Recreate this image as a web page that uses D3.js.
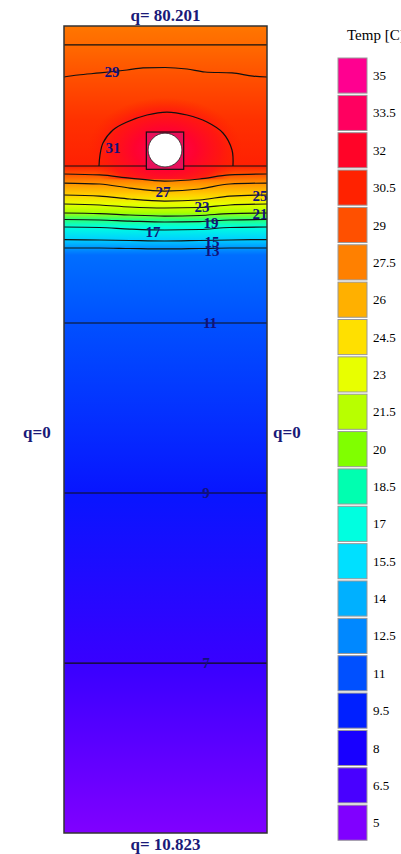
<!DOCTYPE html>
<html>
<head>
<meta charset="utf-8">
<script src="https://d3js.org/d3.v7.min.js"></script>
<style>
body { margin: 0; background: #fff; }
svg text { font-family: "Liberation Serif", "DejaVu Serif", serif; }
</style>
</head>
<body>
<svg width="401" height="854"></svg>
<script>
// legend classes (top to bottom)
var legendValues = [35, 33.5, 32, 30.5, 29, 27.5, 26, 24.5, 23, 21.5, 20, 18.5, 17, 15.5, 14, 12.5, 11, 9.5, 8, 6.5, 5];
var legendLabels = ["35", "33.5", "32", "30.5", "29", "27.5", "26", "24.5", "23", "21.5", "20", "18.5", "17", "15.5", "14", "12.5", "11", "9.5", "8", "6.5", "5"];
var legendColors = ["#ff0090", "#ff0060", "#ff0428", "#ff2200", "#ff5000", "#ff8000", "#ffb000", "#ffe000", "#e8ff00", "#b8ff00",
                    "#80ff00", "#00ffb0", "#00ffe0", "#00e0ff", "#00b0ff", "#0088ff", "#0050ff", "#0020ff", "#1800ff", "#4800ff", "#8000ff"];

// temperature along the side wall: depth (mm) and temp (C)
var profileDepth = [0, 23.5, 63.2, 116.5, 173.5, 183.4, 194.6, 209.4, 220.6, 231.7, 239.8, 249.1, 264.6, 275.1, 283.8, 368, 578.7, 789.4, 1000];
var profileTemp  = [27.8, 28.2, 29, 30, 30.6, 29, 27, 25, 23, 21, 19, 17, 15, 13, 11.8, 11, 9, 7, 5];

// isotherms in the layer, depth (mm) at each x (mm)
var contourX = [0, 44, 81, 124, 167, 204, 250];
var contourLevels = [29, 27, 25, 23, 21, 19, 17, 15, 13];
var contourDepths = [
  [183.4, 184.6, 188.4, 192.1, 189.6, 184.6, 183.4],
  [194.6, 195.8, 200.8, 204.5, 202.0, 195.8, 194.6],
  [209.4, 210.7, 214.4, 216.9, 215.6, 210.7, 209.4],
  [220.6, 221.8, 224.3, 225.5, 224.9, 221.8, 220.6],
  [231.7, 232.4, 234.2, 235.5, 234.8, 232.4, 231.7],
  [239.8, 240.4, 241.7, 242.9, 242.3, 240.4, 239.8],
  [249.1, 249.7, 251.6, 252.8, 252.2, 249.7, 249.1],
  [264.6, 265.2, 265.8, 266.4, 265.8, 265.2, 264.6],
  [275.1, 275.1, 275.7, 276.3, 275.7, 275.1, 275.1]
];
// upper 29 isotherm and the 31 dome over the pipe
var contour29Top = [[0, 63.2], [17.2, 60.7], [44.3, 58.2], [77.6, 54.5], [97.3, 52.0], [124.4, 51.4], [151.5, 53.3], [173.6, 57.0], [206.9, 58.2], [232.8, 62.0], [250, 63.2]];
var contour31Dome = [[43.1, 173.5], [44.3, 160.0], [48.0, 145.0], [60.3, 128.9], [77.6, 119.0], [102.2, 110.3], [126.8, 106.6], [151.5, 110.3], [176.1, 119.0], [195.8, 132.6], [206.9, 153.7], [208.1, 173.5]];
// straight isotherms in the subgrade
var flatLevels = [11, 9, 7];
var flatDepths = [368, 578.7, 789.4];
// material boundaries
var layerDepths = [23.5, 173.5];

// contour labels
var labelText = ["29", "31", "27", "25", "23", "21", "19", "17", "15", "13", "11", "9", "7"];
var labelX = [59.1, 60.3, 121.9, 241.4, 169.9, 241.4, 181.0, 109.6, 182.2, 182.2, 179.8, 174.9, 174.9];
var labelY = [57.0, 151.2, 205.7, 210.7, 224.3, 233.0, 244.1, 255.3, 267.2, 278.4, 368, 578.7, 789.4];

// pipe
var pipeX = 124.4, pipeY = 153.7, pipeR = 20.8;
var pipeBox = [101.4, 131.4, 147.4, 177.6];

// boundary conditions
var qTop = "q= 80.201", qBottom = "q= 10.823", qSide = "q=0";

var svg = d3.select("svg");
var x = d3.scaleLinear().domain([0, 250]).range([64, 267]);
var y = d3.scaleLinear().domain([0, 1000]).range([26, 833]);

var color = d3.scaleLinear().domain(legendValues.slice().reverse()).range(legendColors.slice().reverse()).clamp(true);

var defs = svg.append("defs");
var grad = defs.append("linearGradient").attr("id", "field")
  .attr("gradientUnits", "userSpaceOnUse")
  .attr("x1", 0).attr("x2", 0).attr("y1", y(0)).attr("y2", y(1000));
grad.selectAll("stop").data(profileDepth).enter().append("stop")
  .attr("offset", function(d) { return d / 1000; })
  .attr("stop-color", function(d, i) { return color(profileTemp[i]); });

var hot = defs.append("radialGradient").attr("id", "hot")
  .attr("gradientUnits", "userSpaceOnUse")
  .attr("cx", x(pipeX)).attr("cy", y(pipeY)).attr("r", x(95) - x(0))
  .attr("gradientTransform", "translate(" + x(pipeX) + "," + y(pipeY) + ") scale(1,0.68) translate(" + (-x(pipeX)) + "," + (-y(pipeY)) + ")");
hot.append("stop").attr("offset", 0).attr("stop-color", color(33.3)).attr("stop-opacity", 1);
hot.append("stop").attr("offset", 0.4).attr("stop-color", color(32.2)).attr("stop-opacity", 1);
hot.append("stop").attr("offset", 0.72).attr("stop-color", color(31.2)).attr("stop-opacity", 0.85);
hot.append("stop").attr("offset", 1).attr("stop-color", color(30.5)).attr("stop-opacity", 0);

defs.append("clipPath").attr("id", "clip").append("rect")
  .attr("x", x(0)).attr("y", y(0)).attr("width", x(250) - x(0)).attr("height", y(1000) - y(0));

var g = svg.append("g").attr("clip-path", "url(#clip)");
g.append("rect").attr("x", x(0)).attr("y", y(0)).attr("width", x(250) - x(0)).attr("height", y(1000) - y(0))
  .attr("fill", "url(#field)");
g.append("rect").attr("x", x(0)).attr("y", y(23.5)).attr("width", x(250) - x(0)).attr("height", y(190) - y(23.5))
  .attr("fill", "url(#hot)");

var lineStyle = function(sel) { return sel.attr("fill", "none").attr("stroke", "#111").attr("stroke-width", 1.2); };

// material boundaries and flat isotherms
g.selectAll("line.layer").data(layerDepths.concat(flatDepths)).enter().append("line")
  .attr("x1", x(0)).attr("x2", x(250)).attr("y1", function(d) { return y(d); }).attr("y2", function(d) { return y(d); })
  .call(lineStyle);

var curve = d3.line().x(function(d) { return x(d[0]); }).y(function(d) { return y(d[1]); }).curve(d3.curveMonotoneX);
g.selectAll("path.iso").data(contourDepths).enter().append("path")
  .attr("d", function(row) { return curve(row.map(function(v, i) { return [contourX[i], v]; })); })
  .call(lineStyle);
g.append("path").attr("d", curve(contour29Top)).call(lineStyle);
g.append("path").attr("d", d3.line().x(function(d) { return x(d[0]); }).y(function(d) { return y(d[1]); })
  .curve(d3.curveCatmullRom)(contour31Dome)).call(lineStyle);

// pipe
g.append("rect").attr("x", x(pipeBox[0])).attr("y", y(pipeBox[1]))
  .attr("width", x(pipeBox[2]) - x(pipeBox[0])).attr("height", y(pipeBox[3]) - y(pipeBox[1]))
  .attr("fill", "#e8105a").attr("stroke", "#111").attr("stroke-width", 1.2);
g.append("circle").attr("cx", x(pipeX)).attr("cy", y(pipeY)).attr("r", x(pipeR) - x(0))
  .attr("fill", "#fff").attr("stroke", "#222").attr("stroke-width", 0.8);

// labels
svg.selectAll("text.lab").data(labelText).enter().append("text")
  .attr("x", function(d, i) { return x(labelX[i]); })
  .attr("y", function(d, i) { return y(labelY[i]); })
  .attr("dy", "0.35em").attr("text-anchor", "middle")
  .attr("font-size", 15).attr("font-weight", "bold").attr("fill", "#12127a")
  .text(function(d) { return d; });

// outline
svg.append("rect").attr("x", x(0)).attr("y", y(0)).attr("width", x(250) - x(0)).attr("height", y(1000) - y(0))
  .attr("fill", "none").attr("stroke", "#333").attr("stroke-width", 1.5);

// boundary conditions
var bc = function(t, px, py, anchor) {
  svg.append("text").attr("x", px).attr("y", py).attr("text-anchor", anchor)
    .attr("font-size", 17).attr("font-weight", "bold").attr("fill", "#1a1a78").text(t);
};
bc(qTop, x(125), 21, "middle");
bc(qBottom, x(125), 850, "middle");
bc(qSide, 23, 438, "start");
bc(qSide, 273, 438, "start");

// legend
var leg = svg.append("g");
leg.append("text").attr("x", 347).attr("y", 40).attr("font-size", 15).attr("fill", "#000").text("Temp [C]");
var ly = d3.scaleBand().domain(legendLabels).range([58, 58 + 37.25 * legendLabels.length]).paddingInner(0.06).paddingOuter(0);
leg.selectAll("rect").data(legendLabels).enter().append("rect")
  .attr("x", 338).attr("y", function(d) { return ly(d); })
  .attr("width", 29).attr("height", ly.bandwidth())
  .attr("fill", function(d, i) { return legendColors[i]; })
  .attr("stroke", "#999").attr("stroke-width", 1);
leg.selectAll("text.v").data(legendLabels).enter().append("text")
  .attr("x", 373).attr("y", function(d) { return ly(d) + ly.bandwidth() / 2; })
  .attr("dy", "0.35em").attr("font-size", 13).attr("fill", "#000")
  .text(function(d) { return d; });
</script>
</body>
</html>
